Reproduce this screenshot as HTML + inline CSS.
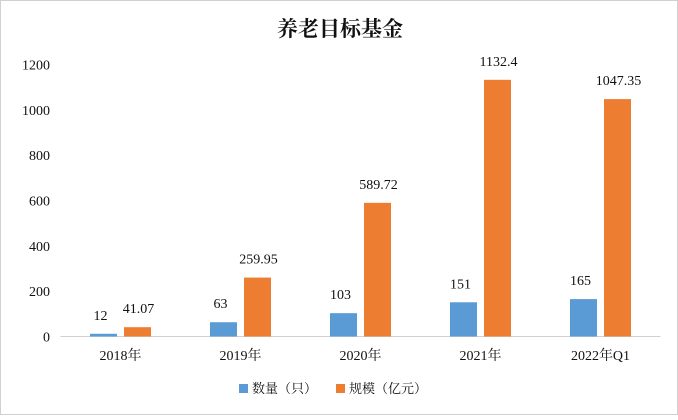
<!DOCTYPE html>
<html><head><meta charset="utf-8"><style>
body{margin:0;background:#fff}
svg text{font-family:"Liberation Serif","Noto Serif CJK SC",serif;fill:#111}
</style></head><body>
<svg width="678" height="415" xmlns="http://www.w3.org/2000/svg">
<rect x="0.5" y="0.5" width="677" height="414" fill="#fff" stroke="#d0d0d0"/>
<text x="340" y="36" text-anchor="middle" font-size="21" font-weight="bold">养老目标基金</text>
<g id="yaxis"></g>
<line x1="60.5" y1="336.5" x2="660.5" y2="336.5" stroke="#d0d0d0"/>
<g id="bars"></g>
<g>
<rect x="239" y="384" width="9" height="9" fill="#5b9bd5"/>
<text x="252" y="393" font-size="13">数量（只）</text>
<rect x="336" y="384" width="9" height="9" fill="#ed7d31"/>
<text x="349" y="393" font-size="13">规模（亿元）</text>
</g>
</svg>
<script>
const categories=["2018年","2019年","2020年","2021年","2022年Q1"];
const countValues=[12,63,103,151,165];
const scaleValues=[41.07,259.95,589.72,1132.4,1047.35];
const countLabels=["12","63","103","151","165"];
const scaleLabels=["41.07","259.95","589.72","1132.4","1047.35"];
const yTicks=[0,200,400,600,800,1000,1200];
const NS="http://www.w3.org/2000/svg";
const y0=336.5,pxPer=272/1200,xL=60.5,band=120;
const y=v=>y0-v*pxPer;
const xc=i=>xL+band*(i+0.5);
function mk(t,a,p){const e=document.createElementNS(NS,t);for(const k in a)e.setAttribute(k,a[k]);p.appendChild(e);return e;}
const ya=document.getElementById('yaxis'),bg=document.getElementById('bars');
yTicks.forEach(v=>{const t=mk('text',{x:50,y:y(v)+5,'text-anchor':'end','font-size':14},ya);t.textContent=v;

});
categories.forEach((c,i)=>{
const cx=xc(i);
const b1=mk('rect',{x:cx-30.5,y:y(countValues[i]),width:27,height:countValues[i]*pxPer,fill:'#5b9bd5'},bg);


const b2=mk('rect',{x:cx+3.5,y:y(scaleValues[i]),width:27,height:scaleValues[i]*pxPer,fill:'#ed7d31'},bg);


const l1=mk('text',{x:cx-20,y:y(countValues[i])-14,'text-anchor':'middle','font-size':14},bg);l1.textContent=countLabels[i];


const l2=mk('text',{x:cx+18,y:y(scaleValues[i])-14,'text-anchor':'middle','font-size':14},bg);l2.textContent=scaleLabels[i];


const xl=mk('text',{x:cx,y:360,'text-anchor':'middle','font-size':14},bg);xl.textContent=c;


});
</script>
</body></html>
